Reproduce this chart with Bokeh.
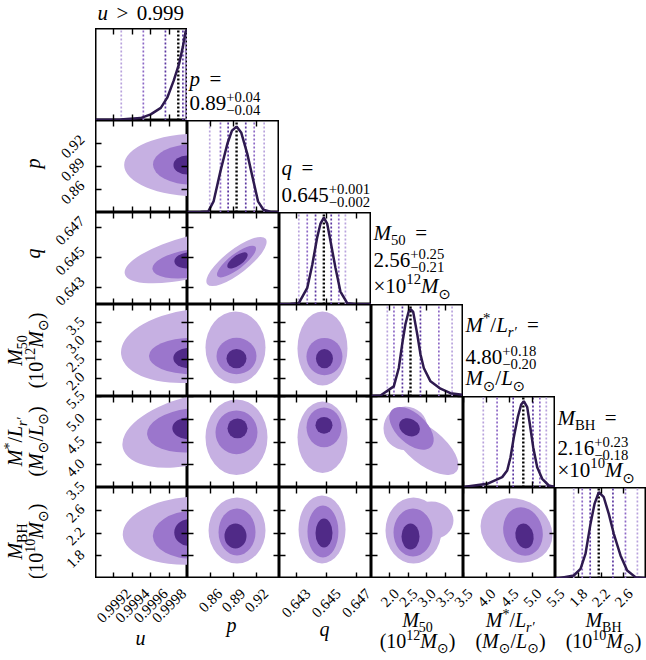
import math
from bokeh.plotting import figure
from bokeh.models import LinearAxis, FixedTicker, Label, Range1d
from bokeh.layouts import column, row
from bokeh.embed import file_html
from bokeh.resources import INLINE

# ---------------- data ----------------
U_RANGE = [0.9990, 1.0000]
P_RANGE = [0.83, 0.95]
Q_RANGE = [0.6419, 0.6480]
M50_RANGE = [1.5, 4.0]
ML_RANGE = [3.5, 5.5]
MBH_RANGE = [1.4, 3.0]

U_TICKS = [0.9992, 0.9994, 0.9996, 0.9998]
U_TICK_LABELS = ["0.9992", "0.9994", "0.9996", "0.9998"]
P_TICKS = [0.86, 0.89, 0.92]
P_TICK_LABELS = ["0.86", "0.89", "0.92"]
Q_TICKS = [0.643, 0.645, 0.647]
Q_TICK_LABELS = ["0.643", "0.645", "0.647"]
M50_TICKS = [2.0, 2.5, 3.0, 3.5]
M50_TICK_LABELS = ["2.0", "2.5", "3.0", "3.5"]
ML_TICKS = [3.5, 4.0, 4.5, 5.0, 5.5]
ML_TICK_LABELS = ["3.5", "4.0", "4.5", "5.0", "5.5"]
MBH_TICKS = [1.8, 2.2, 2.6]
MBH_TICK_LABELS = ["1.8", "2.2", "2.6"]

# quantile lines: 3 lower, median, 3 upper
U_QUANT = [0.99928, 0.99952, 0.99976, 0.99990, 0.99995, 0.99998, 0.99999]
P_QUANT = [0.859, 0.873, 0.883, 0.894, 0.906, 0.917, 0.930]
Q_QUANT = [0.64318, 0.64374, 0.64429, 0.64484, 0.64533, 0.64583, 0.64627]
M50_QUANT = [1.93, 2.11, 2.34, 2.56, 2.83, 3.33, 3.69]
ML_QUANT = [3.93, 4.23, 4.58, 4.80, 5.01, 5.16, 5.30]
MBH_QUANT = [1.72, 1.87, 2.01, 2.16, 2.41, 2.63, 2.84]

# 1D marginal curves (relative density)
U_GRID = [0.99900, 0.99927, 0.99949, 0.99960, 0.99971, 0.99978, 0.99985, 0.99991, 0.99995, 0.99998, 1.00000]
U_DENS = [0.008, 0.010, 0.026, 0.067, 0.137, 0.248, 0.433, 0.622, 0.803, 0.970, 0.985]
P_GRID = [0.830, 0.847, 0.857, 0.864, 0.873, 0.882, 0.888, 0.894, 0.900, 0.908, 0.916, 0.922, 0.929, 0.938, 0.950]
P_DENS = [0.003, 0.005, 0.010, 0.120, 0.450, 0.747, 0.890, 0.934, 0.870, 0.637, 0.341, 0.121, 0.030, 0.008, 0.003]
Q_GRID = [0.6419, 0.64263, 0.64318, 0.64374, 0.64407, 0.64440, 0.64462, 0.64484, 0.64506, 0.64528, 0.64561, 0.64594, 0.64639, 0.64694, 0.6480]
Q_DENS = [0.003, 0.005, 0.015, 0.180, 0.430, 0.730, 0.880, 0.945, 0.880, 0.690, 0.400, 0.140, 0.015, 0.004, 0.003]
M50_GRID = [1.50, 1.745, 2.106, 2.242, 2.334, 2.424, 2.513, 2.56, 2.633, 2.742, 2.831, 2.921, 3.103, 3.375, 3.646, 3.964]
M50_DENS = [0.005, 0.011, 0.110, 0.310, 0.570, 0.790, 0.930, 0.950, 0.920, 0.680, 0.460, 0.310, 0.165, 0.085, 0.036, 0.020]
ML_GRID = [3.50, 3.58, 4.015, 4.341, 4.45, 4.522, 4.594, 4.68, 4.754, 4.811, 4.885, 4.941, 5.015, 5.102, 5.211, 5.354, 5.50]
ML_DENS = [0.003, 0.011, 0.041, 0.114, 0.187, 0.333, 0.553, 0.773, 0.912, 0.948, 0.883, 0.700, 0.443, 0.223, 0.095, 0.022, 0.003]
MBH_GRID = [1.40, 1.458, 1.722, 1.84, 1.927, 2.015, 2.086, 2.161, 2.249, 2.337, 2.425, 2.543, 2.66, 2.806, 3.0]
MBH_DENS = [0.003, 0.004, 0.033, 0.106, 0.270, 0.600, 0.820, 0.948, 0.893, 0.710, 0.491, 0.253, 0.088, 0.015, 0.003]

# 2D credible regions, approximated by ellipses (data units); level 0 = outer
CT_ROW = [1, 1, 1, 2, 2, 2, 3, 3, 3, 4, 4, 4, 5, 5, 5,
          2, 2, 2, 3, 3, 3, 4, 4, 4, 5, 5, 5,
          3, 3, 3, 4, 4, 4, 5, 5, 5,
          4, 4, 4, 4, 5, 5, 5, 5,
          5, 5, 5]
CT_COL = [0, 0, 0, 0, 0, 0, 0, 0, 0, 0, 0, 0, 0, 0, 0,
          1, 1, 1, 1, 1, 1, 1, 1, 1, 1, 1, 1,
          2, 2, 2, 2, 2, 2, 2, 2, 2,
          3, 3, 3, 3, 3, 3, 3, 3,
          4, 4, 4]
CT_LEVEL = [0, 1, 2, 0, 1, 2, 0, 1, 2, 0, 1, 2, 0, 1, 2,
            0, 1, 2, 0, 1, 2, 0, 1, 2, 0, 1, 2,
            0, 1, 2, 0, 1, 2, 0, 1, 2,
            0, 0, 1, 2, 0, 0, 1, 2,
            0, 1, 2]
CT_X = [1.00012, 1.00005, 1.00000, 1.00006, 1.00004, 1.00001, 1.00006, 1.00004, 1.00001,
        1.00006, 1.00004, 1.00001, 1.00006, 1.00006, 1.00002,
        0.8939, 0.8939, 0.8952, 0.8926, 0.8939, 0.8939, 0.8939, 0.8939, 0.8952, 0.8946, 0.8946, 0.8926,
        0.64475, 0.64488, 0.64488, 0.64475, 0.64485, 0.64485, 0.64472, 0.64478, 0.64485,
        2.424, 2.967, 2.587, 2.533, 2.641, 3.130, 2.628, 2.560,
        4.652, 4.793, 4.826]
CT_Y = [0.892, 0.8925, 0.892, 0.64508, 0.64462, 0.64482, 2.874, 2.599, 2.544,
        4.757, 4.757, 4.80, 2.244, 2.174, 2.209,
        0.64475, 0.64475, 0.64482, 2.832, 2.599, 2.530, 4.604, 4.713, 4.80, 2.244, 2.218, 2.147,
        2.804, 2.585, 2.530, 4.604, 4.822, 4.866, 2.262, 2.226, 2.20,
        4.80, 4.407, 4.80, 4.822, 2.244, 2.42, 2.209, 2.139,
        2.244, 2.226, 2.147]
CT_W = [1.617e-3, 8.5e-4, 3.06e-4, 1.53e-3, 8.52e-4, 3.06e-4, 1.574e-3, 9.18e-4, 3.28e-4,
        1.574e-3, 9.62e-4, 3.5e-4, 1.53e-3, 8.74e-4, 3.28e-4,
        0.0965, 0.0626, 0.0313, 0.0783, 0.0522, 0.0261, 0.0809, 0.0548, 0.0261, 0.0743, 0.0483, 0.0287,
        0.003315, 0.002387, 0.001127, 0.003315, 0.00232, 0.001127, 0.003116, 0.002055, 0.001127,
        1.196, 2.174, 1.467, 0.598, 1.522, 1.196, 1.060, 0.489,
        1.609, 0.848, 0.391]
CT_H = [0.0818, 0.0527, 0.025, 0.002785, 0.001856, 0.00106, 1.978, 0.989, 0.549,
        1.487, 0.962, 0.481, 1.195, 0.844, 0.475,
        0.00159, 0.000995, 0.000663, 1.957, 0.989, 0.522, 1.661, 0.962, 0.437, 1.160, 0.826, 0.44,
        2.011, 1.016, 0.522, 1.574, 0.874, 0.372, 1.195, 0.914, 0.51,
        0.962, 0.787, 0.656, 0.372, 1.160, 0.668, 0.844, 0.457,
        1.090, 0.861, 0.44]
CT_ANGLE = [0, 0, 0, 0.25, 0.15, 0.1, 0.12, 0, 0, 0.25, 0.1, 0, 0.07, 0.05, 0,
            0.66, 0.66, 0.62, 0, 0, 0, 0, 0, 0, 0, 0, 0,
            0, 0, 0, 0, 0, 0, 0, 0, 0,
            0, -0.68, -0.75, -0.5, 0, 0, 0, 0,
            -0.45, 0.25, 0.2]

RANGES = [U_RANGE, P_RANGE, Q_RANGE, M50_RANGE, ML_RANGE, MBH_RANGE]
TICKS = [U_TICKS, P_TICKS, Q_TICKS, M50_TICKS, ML_TICKS, MBH_TICKS]
TICK_LABELS = [U_TICK_LABELS, P_TICK_LABELS, Q_TICK_LABELS, M50_TICK_LABELS, ML_TICK_LABELS, MBH_TICK_LABELS]
QUANTS = [U_QUANT, P_QUANT, Q_QUANT, M50_QUANT, ML_QUANT, MBH_QUANT]
GRIDS = [U_GRID, P_GRID, Q_GRID, M50_GRID, ML_GRID, MBH_GRID]
DENSS = [U_DENS, P_DENS, Q_DENS, M50_DENS, ML_DENS, MBH_DENS]

# ---------------- styling / layout ----------------
FONT = "Liberation Serif"
SYM_FONT = "DejaVu Sans"
LIGHT, MID, DARK = "#c6b0e2", "#9b76cc", "#502a87"
CURVE = "#2e1a4f"
LEVEL_COLORS = [LIGHT, MID, DARK]
QLINE_COLORS = ["#b9a3dd", "#8d68c6", "#5b36a0", "black", "#5b36a0", "#8d68c6", "#b9a3dd"]
LEFT_W, TOP_H, BOTTOM_H = 95, 28, 82
FW = [92, 92, 92, 92, 92, 91]
FH = [92, 92, 92, 92, 91, 91]
TOTAL_W = 646
MID_H = sum(FH)
TITLE_SIZE = 21
LABEL_SIZE = 20
TICK_SIZE = 15
BASE_FIX = 0.36   # label anchor sits this many em above the glyph baseline

W_REG = {d: 0.5 for d in "0123456789"}
W_REG.update({".": 0.25, " ": 0.25, "=": 0.564, "+": 0.564, "\u2212": 0.564, "\u00d7": 0.564,
              ">": 0.564, "(": 0.333, ")": 0.333, "/": 0.278, "*": 0.5, "B": 0.667, "H": 0.722,
              "\u2032": 0.27, "\u2299": 0.84})
W_IT = {"u": 0.5, "p": 0.5, "q": 0.5, "M": 0.833, "L": 0.556, "r": 0.389}


def text_width(t, italic, size):
    tab = W_IT if italic else W_REG
    return sum(tab.get(ch, W_REG.get(ch, 0.5)) for ch in t) * size


def piece_adv(p, size):
    t, it, kind = p
    if kind == "gap":
        return t * size
    if kind == "n":
        return text_width(t, it, size)
    if kind in ("sub", "sup"):
        return text_width(t, it, size * 0.7)
    return max(text_width(t[0], False, size * 0.7), text_width(t[1], False, size * 0.7))


def rich(fig, x, y, pieces, size, angle=0.0, center=False):
    total = sum(piece_adv(p, size) for p in pieces)
    s = -total / 2 if center else 0.0
    ca, sa = math.cos(angle), math.sin(angle)
    for p in pieces:
        t, it, kind = p
        if kind == "gap":
            items = []
        elif kind == "n":
            items = [(t, it, size, 0.0)]
        elif kind == "sub":
            items = [(t, it, size * 0.7, -0.24 * size)]
        elif kind == "sup":
            items = [(t, it, size * 0.7, 0.42 * size)]
        else:
            items = [(t[0], False, size * 0.7, 0.37 * size), (t[1], False, size * 0.7, -0.25 * size)]
        for tt, iit, ss, rise in items:
            rise = rise + BASE_FIX * ss
            fig.add_layout(Label(
                x=x + s * ca - rise * sa, y=y + s * sa + rise * ca,
                x_units="screen", y_units="screen", text=tt, angle=angle,
                text_font=SYM_FONT if tt == "\u2299" else FONT,
                text_font_size=f"{ss:.1f}px",
                text_font_style="italic" if iit else "normal",
                text_baseline="alphabetic", text_align="left", text_color="black"))
        s += piece_adv(p, size)


SUN = ("\u2299", False, "sub")
EQ = [(0.45, False, "gap"), ("=", False, "n")]
LABEL_LINES = [
    [[("u", True, "n")]],
    [[("p", True, "n")]],
    [[("q", True, "n")]],
    [[("M", True, "n"), ("50", False, "sub")],
     [("(10", False, "n"), ("12", False, "sup"), ("M", True, "n"), SUN, (")", False, "n")]],
    [[("M", True, "n"), ("*", False, "sup"), ("/", False, "n"), ("L", True, "n"), ("r\u2032", True, "sub")],
     [("(", False, "n"), ("M", True, "n"), SUN, ("/", False, "n"), ("L", True, "n"), SUN, (")", False, "n")]],
    [[("M", True, "n"), ("BH", False, "sub")],
     [("(10", False, "n"), ("10", False, "sup"), ("M", True, "n"), SUN, (")", False, "n")]],
]

TITLE_LINES = [
    [[("u", True, "n"), (0.4, False, "gap"), (">", False, "n"), (0.4, False, "gap"), ("0.999", False, "n")]],
    [[("p", True, "n")] + EQ,
     [("0.89", False, "n"), (("+0.04", "\u22120.04"), False, "stack")]],
    [[("q", True, "n")] + EQ,
     [("0.645", False, "n"), (("+0.001", "\u22120.002"), False, "stack")]],
    [[("M", True, "n"), ("50", False, "sub")] + EQ,
     [("2.56", False, "n"), (("+0.25", "\u22120.21"), False, "stack")],
     [("\u00d710", False, "n"), ("12", False, "sup"), ("M", True, "n"), SUN]],
    [[("M", True, "n"), ("*", False, "sup"), ("/", False, "n"), ("L", True, "n"), ("r\u2032", True, "sub")] + EQ,
     [("4.80", False, "n"), (("+0.18", "\u22120.20"), False, "stack")],
     [("M", True, "n"), SUN, ("/", False, "n"), ("L", True, "n"), SUN]],
    [[("M", True, "n"), ("BH", False, "sub")] + EQ,
     [("2.16", False, "n"), (("+0.23", "\u22120.18"), False, "stack")],
     [("\u00d710", False, "n"), ("10", False, "sup"), ("M", True, "n"), SUN]],
]
TITLE_BASELINES = [[8], [34, 10], [37, 10], [64, 37, 11], [64, 32, 11], [62, 32, 10]]
# left labels: screen y (from bottom of left strip) of the label centre, and baselines
LEFT_LABEL_CY = [0, 578 - 163, 578 - 253, 578 - 350, 578 - 441, 578 - 541]
LEFT_LABEL_X1 = [40]
LEFT_LABEL_X2 = [22, 43]
# bottom labels: centre x, baselines (screen y from bottom of bottom strip)
BOTTOM_LABEL_CX = [140, 231, 324, 417, 510, 603]
BOTTOM_LABEL_BASE = [[15], [28], [24], [33, 12], [33, 12], [33, 12]]

ROW_TOP = [sum(FH[:r]) for r in range(6)]
COL_LEFT = [LEFT_W + sum(FW[:c]) for c in range(6)]


def blank(width, height, **kw):
    f = figure(width=width, height=height, output_backend="svg", toolbar_location=None,
               x_axis_location=None, y_axis_location=None, min_border=0,
               x_range=Range1d(0, width), y_range=Range1d(0, height), **kw)
    f.outline_line_color = None
    f.grid.visible = False
    return f


def add_ticks(fig, side, idx):
    ax = LinearAxis(ticker=FixedTicker(ticks=TICKS[idx]))
    ax.axis_line_color = None
    ax.major_tick_in = 6
    ax.major_tick_out = 0
    ax.major_tick_line_width = 1.4
    ax.major_tick_line_color = "black"
    ax.minor_tick_line_color = None
    ax.major_label_text_font_size = "0px"
    ax.major_label_text_color = None
    ax.major_label_standoff = 0
    fig.add_layout(ax, side)


def panel(r, c):
    diag = r == c
    f = figure(width=FW[c], height=FH[r], output_backend="svg", toolbar_location=None,
               x_axis_location=None, y_axis_location=None,
               x_range=Range1d(*RANGES[c]),
               y_range=Range1d(0, 1) if diag else Range1d(*RANGES[r]),
               min_border=0)
    f.outline_line_color = "black"
    f.outline_line_width = 2
    f.grid.visible = False
    f.background_fill_color = "white"
    f.border_fill_color = "white"
    add_ticks(f, "above", c)
    add_ticks(f, "below", c)
    if not diag:
        add_ticks(f, "left", r)
        add_ticks(f, "right", r)
        idx = [i for i in range(len(CT_ROW)) if CT_ROW[i] == r and CT_COL[i] == c]
        for lev in range(3):
            sel = [i for i in idx if CT_LEVEL[i] == lev]
            if sel:
                f.ellipse(x=[CT_X[i] for i in sel], y=[CT_Y[i] for i in sel],
                          width=[CT_W[i] for i in sel], height=[CT_H[i] for i in sel],
                          angle=[CT_ANGLE[i] for i in sel],
                          fill_color=LEVEL_COLORS[lev], line_color=None)
    else:
        qs = QUANTS[c]
        for k in range(7):
            f.segment(x0=[qs[k]], y0=[0], x1=[qs[k]], y1=[1],
                      line_color=QLINE_COLORS[k], line_dash="2 2",
                      line_width=2.4 if k == 3 else 1.7)
        f.line(GRIDS[c], DENSS[c], line_color=CURVE, line_width=2.5)
    return f


def rot_box(label):
    w = text_width(label, False, TICK_SIZE)
    return (w + 0.68 * TICK_SIZE) * math.sqrt(0.5)


# ---- top title strip
top = blank(TOTAL_W, TOP_H)
for ln, yb in zip(TITLE_LINES[0], TITLE_BASELINES[0]):
    rich(top, 97, yb, ln, TITLE_SIZE)

# ---- left strip: y tick labels and y axis labels, one extra range per row
row_ranges = {}
for r in range(1, 6):
    a, b = RANGES[r]
    lo = MID_H - (ROW_TOP[r] + FH[r])
    hi = MID_H - ROW_TOP[r]
    span = (b - a) / (hi - lo)
    row_ranges[f"row{r}"] = Range1d(a - span * lo, b + span * (MID_H - hi))
left = blank(LEFT_W, MID_H, extra_y_ranges=row_ranges)
for r in range(1, 6):
    for t, lab in zip(TICKS[r], TICK_LABELS[r]):
        bw = rot_box(lab)
        left.add_layout(Label(x=LEFT_W - 10 - bw / 2, y=t, x_units="screen", y_units="data",
                              y_range_name=f"row{r}", y_offset=-3, text=lab, angle=math.pi / 4,
                              text_font=FONT, text_font_size=f"{TICK_SIZE}px",
                              text_align="center", text_baseline="middle", text_color="black"))
    lines = LABEL_LINES[r]
    xs = LEFT_LABEL_X1 if len(lines) == 1 else LEFT_LABEL_X2
    for ln, xb in zip(lines, xs):
        rich(left, xb, LEFT_LABEL_CY[r], ln, LABEL_SIZE, angle=math.pi / 2, center=True)

# ---- bottom strip: x tick labels and x axis labels, one extra range per column
col_ranges = {}
for c in range(6):
    a, b = RANGES[c]
    lo = COL_LEFT[c]
    hi = COL_LEFT[c] + FW[c]
    span = (b - a) / (hi - lo)
    col_ranges[f"col{c}"] = Range1d(a - span * lo, b + span * (TOTAL_W - hi))
bottom = blank(TOTAL_W, BOTTOM_H, extra_x_ranges=col_ranges)
for c in range(6):
    for t, lab in zip(TICKS[c], TICK_LABELS[c]):
        bw = rot_box(lab)
        bottom.add_layout(Label(x=t, y=BOTTOM_H - 9 - bw / 2, x_units="data", y_units="screen",
                                x_range_name=f"col{c}", text=lab, angle=math.pi / 4,
                                text_font=FONT, text_font_size=f"{TICK_SIZE}px",
                                text_align="center", text_baseline="middle", text_color="black"))
    for ln, yb in zip(LABEL_LINES[c], BOTTOM_LABEL_BASE[c]):
        rich(bottom, BOTTOM_LABEL_CX[c], yb, ln, LABEL_SIZE, center=True)

# ---- middle block: panels + title blanks
rows = []
for r in range(6):
    figs = [panel(r, c) for c in range(r + 1)]
    if r < 5:
        used = sum(FW[:r + 1])
        b = blank(TOTAL_W - LEFT_W - used, FH[r])
        for ln, yb in zip(TITLE_LINES[r + 1], TITLE_BASELINES[r + 1]):
            rich(b, 2, yb, ln, TITLE_SIZE)
        figs.append(b)
    rows.append(row(*figs, spacing=0))

layout = column(top, row(left, column(*rows, spacing=0), spacing=0), bottom, spacing=0)
open("out.html", "w").write(file_html(layout, INLINE, title="corner"))
